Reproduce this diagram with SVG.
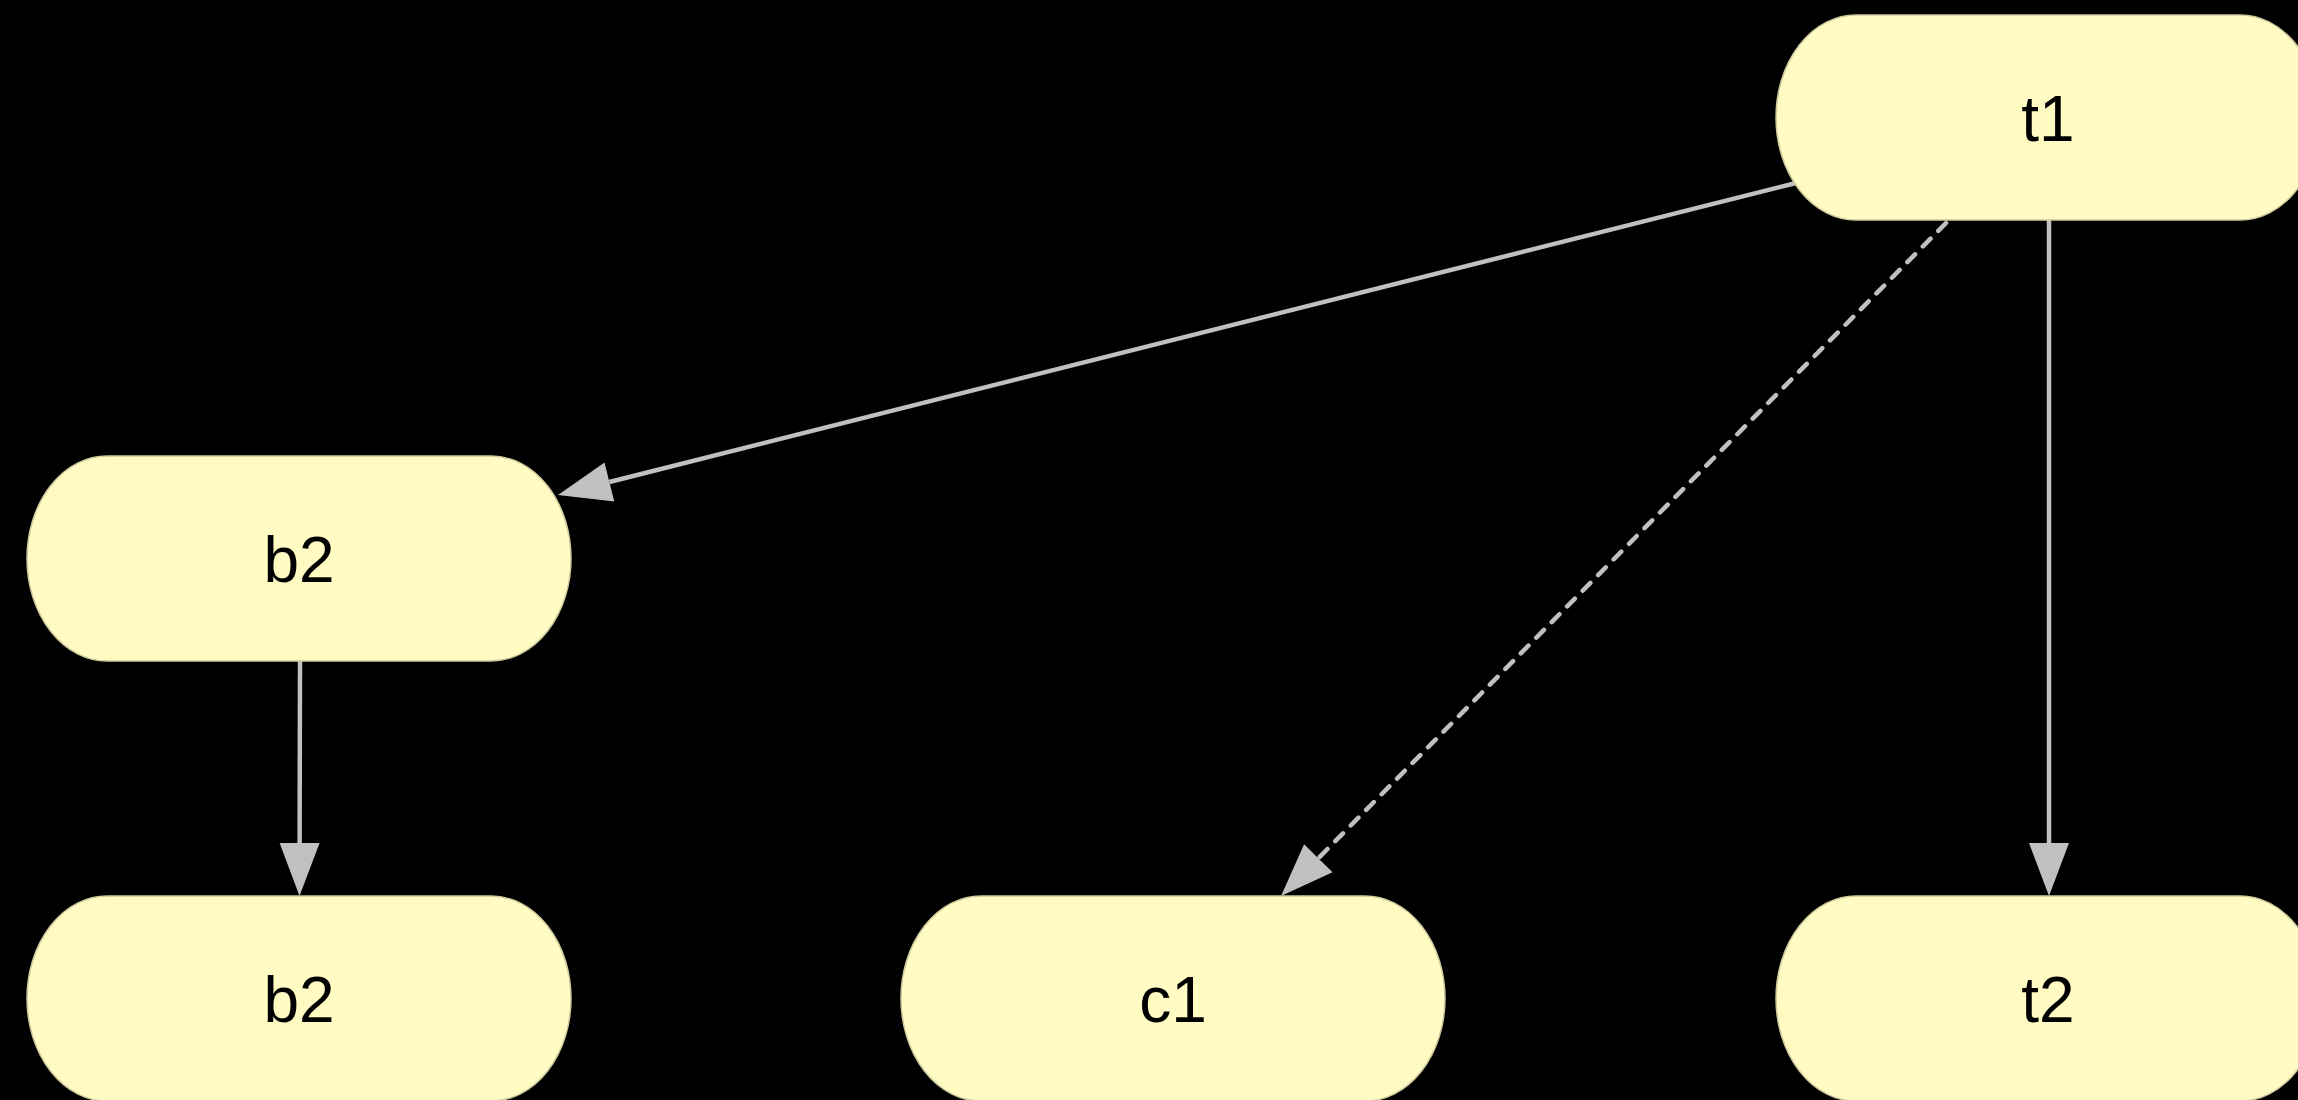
<svg xmlns="http://www.w3.org/2000/svg" width="2298" height="1100" viewBox="0 0 2298 1100">
  <style>
    .node rect { fill: #fffbc3; stroke: #cfca9c; stroke-width: 1.5; }
    .node text { font-family: "Liberation Sans", Arial, sans-serif; font-size: 64px; fill: #000; text-anchor: middle; }
    .edge { stroke: #c0c0c0; stroke-width: 4.5; fill: none; }
    .dashed { stroke-dasharray: 11 11; stroke-linecap: round; }
  </style>
  <defs>
    <marker id="arrow" markerUnits="userSpaceOnUse" markerWidth="54" markerHeight="42" refX="0" refY="21" orient="auto" overflow="visible">
      <path d="M0,1 L53,21 L0,41 Z" fill="#c0c0c0"/>
    </marker>
  </defs>
  <rect x="0" y="0" width="2298" height="1100" fill="#000"/>

  <g id="connectors">
    <line class="edge" x1="1796" y1="183" x2="609.4" y2="482" marker-end="url(#arrow)"/>
    <line class="edge" x1="300" y1="661" x2="299.6" y2="843" marker-end="url(#arrow)"/>
    <line class="edge dashed" x1="1946" y1="223" x2="1318.3" y2="858.3" marker-end="url(#arrow)"/>
    <line class="edge" x1="2049" y1="220" x2="2049" y2="843" marker-end="url(#arrow)"/>
  </g>

  <g id="node-t1" class="node">
    <rect x="1776" y="15" width="544" height="205" rx="80" ry="102.5"/>
    <text x="2048" y="140.5">t1</text>
  </g>
  <g id="node-b2-top" class="node">
    <rect x="27" y="456" width="544" height="205" rx="80" ry="102.5"/>
    <text x="299" y="581.5">b2</text>
  </g>
  <g id="node-b2-bottom" class="node">
    <rect x="27" y="896" width="544" height="205" rx="80" ry="102.5"/>
    <text x="299" y="1021.5">b2</text>
  </g>
  <g id="node-c1" class="node">
    <rect x="901" y="896" width="544" height="205" rx="80" ry="102.5"/>
    <text x="1173" y="1021.5">c1</text>
  </g>
  <g id="node-t2" class="node">
    <rect x="1776" y="896" width="544" height="205" rx="80" ry="102.5"/>
    <text x="2048" y="1021.5">t2</text>
  </g>
</svg>
